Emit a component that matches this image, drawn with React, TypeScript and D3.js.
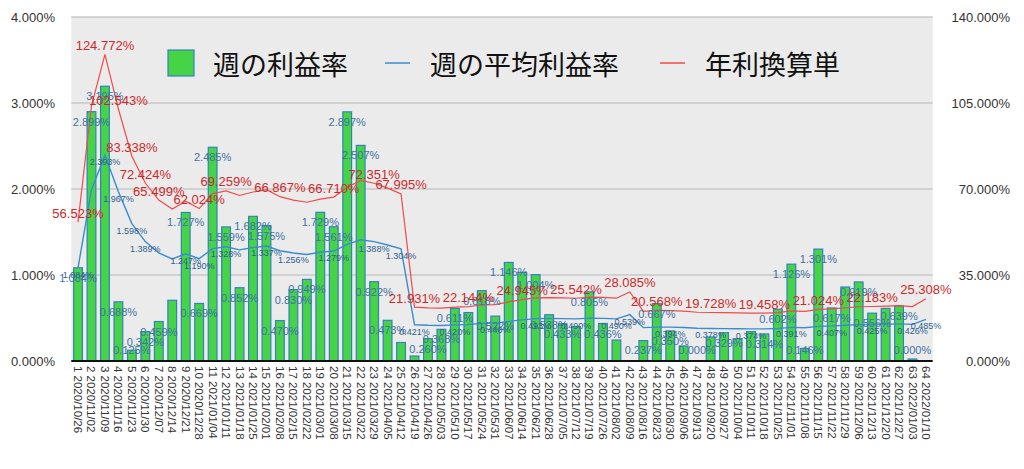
import * as d3 from "d3";

// weekly profit rate (%), weekly average (%), annualised (%)
const weeks = d3.range(1, 65);
const dates = [
  "2020/10/26", "2020/11/02", "2020/11/09", "2020/11/16", "2020/11/23", "2020/11/30", "2020/12/07", "2020/12/14",
  "2020/12/21", "2020/12/28", "2021/01/04", "2021/01/11", "2021/01/18", "2021/01/25", "2021/02/01", "2021/02/08",
  "2021/02/15", "2021/02/22", "2021/03/01", "2021/03/08", "2021/03/15", "2021/03/22", "2021/03/29", "2021/04/05",
  "2021/04/12", "2021/04/19", "2021/04/26", "2021/05/03", "2021/05/10", "2021/05/17", "2021/05/24", "2021/05/31",
  "2021/06/07", "2021/06/14", "2021/06/21", "2021/06/28", "2021/07/05", "2021/07/12", "2021/07/19", "2021/07/26",
  "2021/08/02", "2021/08/09", "2021/08/16", "2021/08/23", "2021/08/30", "2021/09/06", "2021/09/13", "2021/09/20",
  "2021/09/27", "2021/10/04", "2021/10/11", "2021/10/18", "2021/10/25", "2021/11/01", "2021/11/08", "2021/11/15",
  "2021/11/22", "2021/11/29", "2021/12/06", "2021/12/13", "2021/12/20", "2021/12/27", "2022/01/03", "2022/01/10",
];

const weeklyRate: (number | null)[] = [
  1.084, 2.899, 3.195, 0.688, 0.125, 0.342, 0.459, 0.706, 1.727, 0.669,
  2.485, 1.559, 0.852, 1.682, 1.575, 0.47, 0.83, 0.949, 1.729, 1.561,
  2.897, 2.507, 0.922, 0.473, 0.215, 0.058, 0.26, 0.368, 0.611, 0.563,
  0.818, 0.522, 1.146, 1.03, 1.004, 0.538, 0.433, 0.4, 0.805, 0.436,
  0.244, null, 0.237, 0.667, 0.35, 0.175, 0.0, 0.279, 0.329, 0.26,
  0.341, 0.314, 0.602, 1.126, 0.146, 1.301, 0.617, 0.86, 0.919, 0.556,
  0.612, 0.639, 0.0004, null,
];

const weeklyAvg = [
  1.084, 1.992, 2.393, 1.967, 1.598, 1.389, 1.256, 1.187, 1.247, 1.19,
  1.307, 1.328, 1.292, 1.319, 1.337, 1.282, 1.256, 1.239, 1.264, 1.279,
  1.356, 1.409, 1.388, 1.349, 1.304, 0.421, 0.415, 0.413, 0.42, 0.425,
  0.437, 0.44, 0.461, 0.478, 0.493, 0.495, 0.493, 0.49, 0.498, 0.496,
  0.49, 0.539, 0.388, 0.394, 0.394, 0.389, 0.38, 0.378, 0.377, 0.375,
  0.374, 0.373, 0.378, 0.391, 0.387, 0.403, 0.407, 0.415, 0.423, 0.425,
  0.429, 0.432, 0.426, 0.485,
];

const annualRate = [
  56.523, 103.86, 124.772, 102.543, 83.338, 72.424, 65.499, 61.89, 65.02, 62.024,
  68.15, 69.259, 67.37, 68.78, 69.71, 66.867, 65.49, 64.61, 65.91, 66.71,
  70.7, 73.47, 72.351, 70.34, 67.995, 21.931, 21.64, 21.53, 21.89, 22.144,
  22.79, 22.94, 24.04, 24.945, 25.71, 25.81, 25.71, 25.542, 25.96, 25.88,
  25.56, 28.085, 20.24, 20.568, 20.52, 20.27, 19.83, 19.728, 19.67, 19.55,
  19.5, 19.458, 19.68, 20.4, 20.17, 21.024, 21.22, 21.63, 22.07, 22.183,
  22.35, 22.53, 22.17, 25.308,
];

// which points carry a value label (others are hidden in the original)
const barLabelWeeks = [1, 2, 3, 4, 5, 6, 7, 9, 10, 11, 12, 13, 14, 15, 16, 17, 18, 19, 20, 21, 22, 23, 24, 27, 28, 29, 31, 32, 33, 35, 36, 37, 39, 40, 43, 44, 45, 47, 49, 52, 53, 54, 55, 56, 57, 59, 60, 62, 63];
const avgLabelWeeks = [1, 3, 4, 5, 6, 9, 10, 12, 15, 17, 20, 23, 25, 26, 29, 32, 35, 38, 41, 42, 45, 48, 51, 54, 57, 60, 63, 64];
const annualLabelWeeks = [1, 3, 4, 5, 6, 7, 10, 12, 16, 20, 23, 25, 26, 30, 34, 38, 42, 44, 48, 52, 56, 60, 64];

const leftTicks = [0, 1, 2, 3, 4];
const rightTicks = [0, 35, 70, 105, 140];
const legendNames = ["週の利益率", "週の平均利益率", "年利換算単"];

const W = 1024;
const H = 469;
const plot = { left: 71.3, right: 932.7, top: 17, bottom: 361 };

const BAR_FILL = "#45d445";
const BAR_STROKE = "#3480c0";
const AVG_COLOR = "#3b8ccf";
const ANN_COLOR = "#f24a4a";
const NUM_FONT = "'Liberation Sans', Arial, sans-serif";
const JP_FONT = "'Noto Sans CJK JP', sans-serif";

const App = () => {
  const x = d3
    .scaleBand<number>()
    .domain(weeks)
    .range([plot.left, plot.right])
    .paddingInner(0.35)
    .paddingOuter(0.175);
  const yL = d3.scaleLinear().domain([0, 4]).range([plot.bottom, plot.top]);
  const yR = d3.scaleLinear().domain([0, 140]).range([plot.bottom, plot.top]);
  const cx = (w: number) => (x(w) as number) + x.bandwidth() / 2;

  const avgLine = d3
    .line<number>()
    .x((_, i) => cx(weeks[i]))
    .y((d) => yL(d));
  const annLine = d3
    .line<number>()
    .x((_, i) => cx(weeks[i]))
    .y((d) => yR(d));

  return (
    <svg
      width={W}
      height={H}
      style={{ position: "absolute", left: 0, top: 0, display: "block", background: "#fff" }}
    >
      <rect
        x={plot.left}
        y={plot.top}
        width={plot.right - plot.left}
        height={plot.bottom - plot.top}
        fill="#ebebeb"
      />
      {leftTicks.map((t) => (
        <g key={t}>
          {t > 0 && (
            <line
              x1={plot.left}
              x2={plot.right}
              y1={yL(t)}
              y2={yL(t)}
              stroke="#c8c8c8"
              strokeWidth={1.5}
            />
          )}
          <text
            x={55}
            y={yL(t)}
            textAnchor="end"
            dominantBaseline="central"
            fontFamily={NUM_FONT}
            fontSize={13}
            fill="#333"
          >
            {t.toFixed(3)}%
          </text>
        </g>
      ))}
      {rightTicks.map((t) => (
        <text
          key={t}
          x={1010}
          y={yR(t)}
          textAnchor="end"
          dominantBaseline="central"
          fontFamily={NUM_FONT}
          fontSize={13}
          fill="#333"
        >
          {t.toFixed(3)}%
        </text>
      ))}

      {/* bars */}
      {weeks.map((w, i) => {
        const v = weeklyRate[i];
        if (v === null) return null;
        const h = Math.max(yL(0) - yL(v), v > 0 ? 2 : 0);
        if (h <= 0) return null;
        return (
          <rect
            key={w}
            x={x(w)}
            y={yL(0) - h}
            width={x.bandwidth()}
            height={h}
            fill={BAR_FILL}
            stroke={BAR_STROKE}
            strokeWidth={1.2}
          />
        );
      })}

      <line
        x1={plot.left}
        x2={plot.right}
        y1={plot.bottom}
        y2={plot.bottom}
        stroke="#111"
        strokeWidth={2}
      />

      {/* x tick labels */}
      {weeks.map((w, i) => (
        <text
          key={w}
          x={cx(w)}
          y={366}
          transform={`rotate(90, ${cx(w)}, 366)`}
          dominantBaseline="central"
          fontFamily={NUM_FONT}
          fontSize={11.5}
          fill="#333"
        >
          {`${w} ${dates[i]}`}
        </text>
      ))}

      {/* lines */}
      <path d={avgLine(weeklyAvg) ?? ""} fill="none" stroke={AVG_COLOR} strokeWidth={1.4} />
      <path d={annLine(annualRate) ?? ""} fill="none" stroke={ANN_COLOR} strokeWidth={1.2} />

      {/* value labels */}
      {barLabelWeeks.map((w) => {
        const v = weeklyRate[w - 1] as number;
        return (
          <text
            key={`b${w}`}
            x={cx(w)}
            y={Math.min(yL(v) + 10, 350)}
            textAnchor="middle"
            dominantBaseline="central"
            fontFamily={NUM_FONT}
            fontSize={11}
            fill="#3f72a3"
          >
            {v.toFixed(3)}%
          </text>
        );
      })}
      {avgLabelWeeks.map((w) => (
        <text
          key={`a${w}`}
          x={cx(w)}
          y={yL(weeklyAvg[w - 1]) + 7}
          textAnchor="middle"
          dominantBaseline="central"
          fontFamily={NUM_FONT}
          fontSize={9}
          fill="#2d5f8f"
        >
          {weeklyAvg[w - 1].toFixed(3)}%
        </text>
      ))}
      {annualLabelWeeks.map((w) => (
        <text
          key={`r${w}`}
          x={cx(w)}
          y={yR(annualRate[w - 1]) - 9}
          textAnchor="middle"
          dominantBaseline="central"
          fontFamily={NUM_FONT}
          fontSize={13}
          fill="#cc2a2a"
        >
          {annualRate[w - 1].toFixed(3)}%
        </text>
      ))}

      {/* legend */}
      <g fontFamily={JP_FONT} fontSize={27} fill="#111">
        <rect x={168} y={50} width={26} height={26} fill={BAR_FILL} stroke={BAR_STROKE} strokeWidth={1.2} />
        <text x={213} y={63} dominantBaseline="central">{legendNames[0]}</text>
        <line x1={385} x2={410} y1={63} y2={63} stroke={AVG_COLOR} strokeWidth={1.5} />
        <text x={430} y={63} dominantBaseline="central">{legendNames[1]}</text>
        <line x1={660} x2={685} y1={63} y2={63} stroke={ANN_COLOR} strokeWidth={1.5} />
        <text x={705} y={63} dominantBaseline="central">{legendNames[2]}</text>
      </g>
    </svg>
  );
};

export default App;
